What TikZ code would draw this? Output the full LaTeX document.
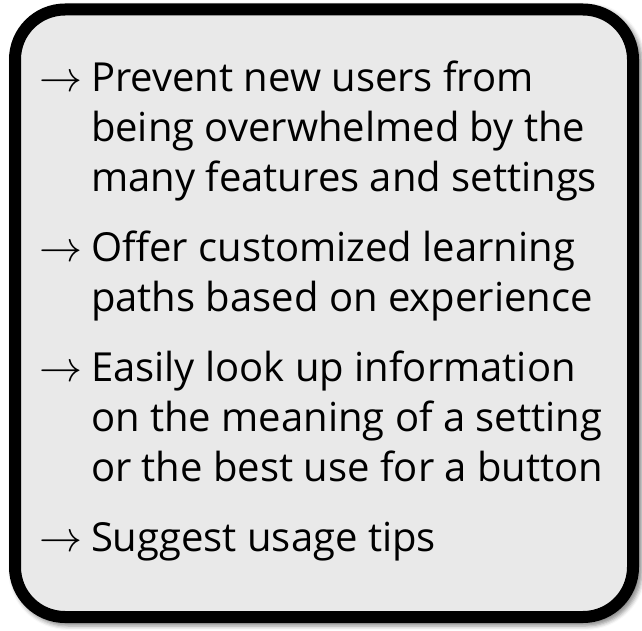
\documentclass[tikz,border=0pt]{standalone}
\usepackage{fontspec}
\setmainfont{Open Sans}
\usetikzlibrary{shadows.blur}
\definecolor{boxfill}{RGB}{233,233,233}
\tikzset{
  txt/.style={anchor=base west, inner sep=0pt, outer sep=0pt, font=\fontsize{40}{50}\selectfont},
  arr/.style={anchor=base west, inner sep=0pt, outer sep=0pt},
  panel/.style={draw=black, line width=12pt, fill=boxfill, rounded corners=50pt},
}
\newcommand{\bigarrow}{\scalebox{4.3}{$\to$}}
\begin{document}
\begin{tikzpicture}[x=1pt,y=1pt]
\useasboundingbox (0,0) rectangle (642,630);
% shadow of outer outline
\path[blur shadow={shadow xshift=3pt, shadow yshift=-3pt, shadow blur radius=4pt, shadow opacity=45}, rounded corners=56pt] (9,7) rectangle (639,626.5);
\path[panel] (15,13) rectangle (633,620.5);
% item 1
\node[arr] (a1) at (39.2,538.3) {\bigarrow};
\node[txt] (l1) at (91,538.3) {Prevent new users from};
\node[txt] (l2) at (91,488.3) {being overwhelmed by the};
\node[txt] (l3) at (91,438.3) {many features and settings};
% item 2
\node[arr] (a2) at (39.2,368.3) {\bigarrow};
\node[txt] (l4) at (91,368.3) {Offer customized learning};
\node[txt] (l5) at (91,318.3) {paths based on experience};
% item 3
\node[arr] (a3) at (39.2,248.3) {\bigarrow};
\node[txt] (l6) at (91,248.3) {Easily look up information};
\node[txt] (l7) at (91,198.3) {on the meaning of a setting};
\node[txt] (l8) at (91,148.3) {or the best use for a button};
% item 4
\node[arr] (a4) at (39.2,78.3) {\bigarrow};
\node[txt] (l9) at (91,78.3) {Suggest usage tips};
\end{tikzpicture}
\end{document}
